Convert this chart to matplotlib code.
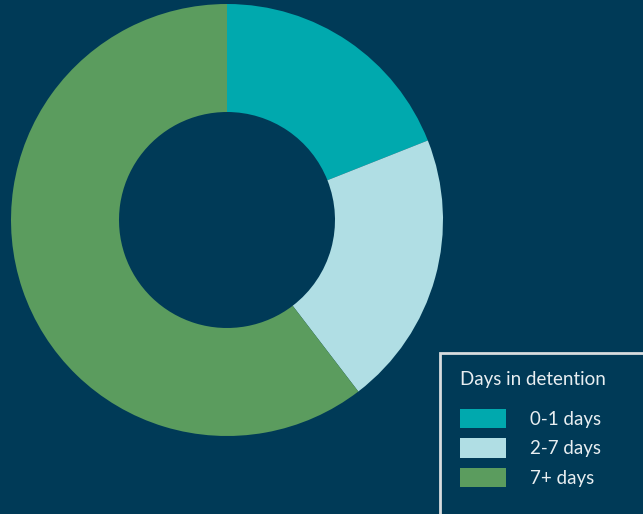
import matplotlib.pyplot as plt
from matplotlib.patches import Rectangle

labels = ["0-1 days", "2-7 days", "7+ days"]
values = [19, 20.6, 60.4]
colors = ["#00A9AE", "#B0DEE4", "#5B9C5E"]
bg = "#003A57"
txt = "#E8EEF1"

plt.rcParams['font.family'] = ['Lato', 'DejaVu Sans']

fig = plt.figure(figsize=(6.43, 5.14), dpi=100, facecolor=bg)
ax = fig.add_axes([0, 0, 1, 1])
ax.set_facecolor(bg)

wedges, _ = ax.pie(values, colors=colors, startangle=90, counterclock=False,
                   center=(227, 294), radius=216, frame=True,
                   wedgeprops=dict(width=108, linewidth=0))
ax.set_xlim(0, 643)
ax.set_ylim(0, 514)
ax.axis("off")

# legend frame runs off the figure edge
ax.add_patch(Rectangle((440, -30), 260, 191, facecolor="none",
                       edgecolor="#D8DCDE", linewidth=2))

leg = ax.legend(wedges, labels, title="Days in detention", loc="upper left",
                bbox_to_anchor=(460 / 643, (514 - 371) / 514),
                frameon=False, fontsize=13.5, title_fontsize=13.5,
                handlelength=2.45, handleheight=1.23, handletextpad=1.3,
                labelspacing=0.52, borderpad=0, borderaxespad=0,
                alignment="left")
for t in leg.get_texts():
    t.set_color(txt)
leg.get_title().set_color(txt)
leg._legend_box.sep = 15

fig.savefig("out.png", dpi=100, facecolor=bg)
